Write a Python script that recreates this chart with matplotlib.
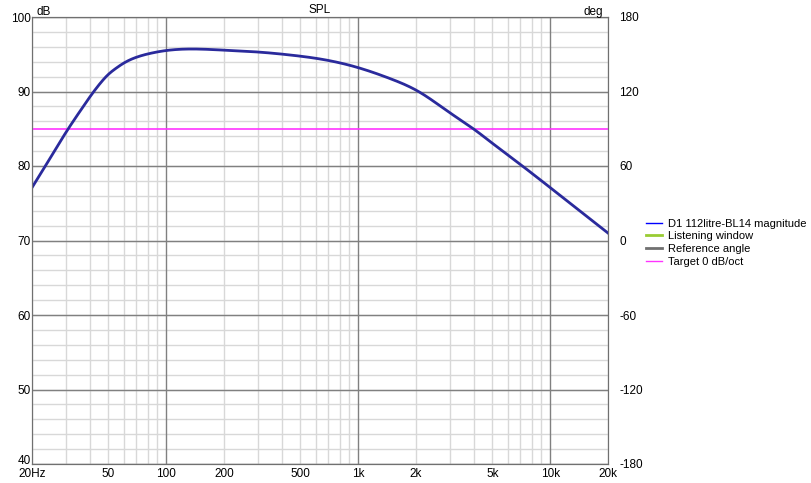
import numpy as np
import matplotlib
matplotlib.use("Agg")
import matplotlib.pyplot as plt
import matplotlib.transforms as mtransforms
from matplotlib.lines import Line2D

# response
freq = [20, 23.6, 30.9, 36, 41.7, 45, 50, 55, 60, 70, 82, 100, 130, 200, 300,
        442, 655, 1000, 1460, 2060, 3000, 4000, 5000, 7000, 10000, 20000]
spl = [77.1, 80.1, 85.0, 87.55, 89.9, 91.0, 92.3, 93.15, 93.8, 94.6, 95.1,
       95.5, 95.7, 95.55, 95.3, 94.9, 94.3, 93.2, 91.75, 90.0, 87.15, 84.95,
       83.05, 80.2, 77.1, 71.0]
target_db = 85

freq_ticks = [20, 50, 100, 200, 500, 1000, 2000, 5000, 10000, 20000]
freq_labels = ["20Hz", "50", "100", "200", "500", "1k", "2k", "5k", "10k", "20k"]
db_ticks = [40, 50, 60, 70, 80, 90, 100]
deg_ticks = [-180, -120, -60, 0, 60, 120, 180]

legend_names = ["D1 112litre-BL14 magnitude", "Listening window",
                "Reference angle", "Target 0 dB/oct"]


def spline(x, y, xn):
    # natural cubic spline through the read points
    x = np.asarray(x, float)
    y = np.asarray(y, float)
    n = len(x)
    h = np.diff(x)
    A = np.zeros((n, n))
    b = np.zeros(n)
    A[0, 0] = 1
    A[-1, -1] = 1
    for i in range(1, n - 1):
        A[i, i-1] = h[i-1]
        A[i, i] = 2 * (h[i-1] + h[i])
        A[i, i+1] = h[i]
        b[i] = 6 * ((y[i+1] - y[i]) / h[i] - (y[i] - y[i-1]) / h[i-1])
    M = np.linalg.solve(A, b)
    idx = np.clip(np.searchsorted(x, xn) - 1, 0, n - 2)
    x0, x1 = x[idx], x[idx+1]
    hh = h[idx]
    return (M[idx] * (x1 - xn)**3 / (6*hh) + M[idx+1] * (xn - x0)**3 / (6*hh)
            + (y[idx] / hh - M[idx] * hh / 6) * (x1 - xn)
            + (y[idx+1] / hh - M[idx+1] * hh / 6) * (xn - x0))


plt.rcParams['font.family'] = ['Liberation Sans', 'DejaVu Sans']
plt.rcParams['font.size'] = 8.5
plt.rcParams['axes.unicode_minus'] = False

fig = plt.figure(figsize=(8.12, 4.83), dpi=100)
ax = fig.add_axes([32/812, 19/483, 576/812, 447/483])

lf = np.log10(freq)
xs = np.linspace(lf[0], lf[-1], 600)
ys = spline(lf, spl, xs)

ax.set_xscale('log')
ax.set_xlim(20, 20000)
ax.set_ylim(40, 100)

# grid
minor_f = []
for dec in [10, 100, 1000, 10000]:
    for m in range(2, 10):
        f = dec * m
        if 20 <= f <= 20000:
            minor_f.append(f)
for f in minor_f:
    ax.axvline(f, color='#d8d8d8', lw=1, zorder=0)
for f in [100, 1000, 10000]:
    ax.axvline(f, color='#808080', lw=1, zorder=1)
for d in range(40, 101, 2):
    ax.axhline(d, color='#d8d8d8', lw=1, zorder=0)
for d in db_ticks:
    ax.axhline(d, color='#808080', lw=1, zorder=1)

ax.axhline(target_db, color='#ff33ff', lw=1.2, zorder=3)
ax.plot(10**xs, ys, color='#2a2a9c', lw=2, zorder=4)

ax.set_xticks(freq_ticks)
ax.set_xticklabels(freq_labels)
ax.xaxis.set_minor_locator(matplotlib.ticker.NullLocator())
ax.set_yticks(db_ticks)
ax.tick_params(axis='x', length=0, pad=3)
ax.tick_params(axis='y', length=0, pad=1)
for s in ax.spines.values():
    s.set_color('#707070')

# lift the bottom "40" a little so it clears "20Hz"
lbl40 = ax.get_yticklabels()[0]
lbl40.set_transform(lbl40.get_transform() +
                    mtransforms.ScaledTranslation(0, 3/72, fig.dpi_scale_trans))

ax2 = ax.twinx()
ax2.set_ylim(-180, 180)
ax2.set_yticks(deg_ticks)
ax2.tick_params(length=0, pad=8)
for s in ax2.spines.values():
    s.set_color('#707070')

ax.set_title("SPL", fontsize=8.5, pad=3)
fig.text(37/812, 1 - 12/483, "dB", ha='left', va='center', fontsize=8.5)
fig.text(603/812, 1 - 12/483, "deg", ha='right', va='center', fontsize=8.5)

handles = [Line2D([], [], color='#0000ff', lw=1),
           Line2D([], [], color='#99cc33', lw=2),
           Line2D([], [], color='#707070', lw=2),
           Line2D([], [], color='#ff33ff', lw=1)]
fig.legend(handles, legend_names, loc='upper left',
           bbox_to_anchor=(640/812, 1 - 213/483), frameon=False,
           handlelength=1.5, handletextpad=0.5, labelspacing=0.25,
           fontsize=8, borderpad=0)

fig.savefig("out.png", dpi=100)
